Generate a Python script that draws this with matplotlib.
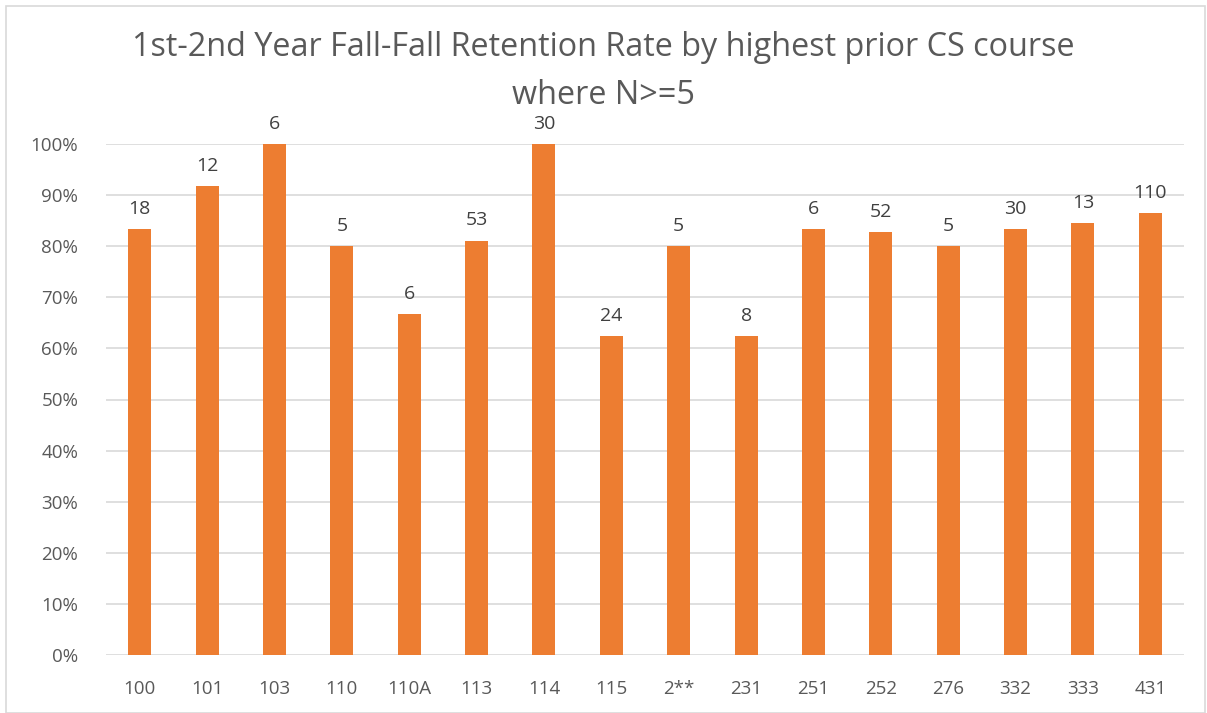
import matplotlib.pyplot as plt
from matplotlib.patches import Rectangle
from matplotlib.ticker import PercentFormatter

courses = ["100", "101", "103", "110", "110A", "113", "114", "115", "2**",
           "231", "251", "252", "276", "332", "333", "431"]
retention = [0.833, 0.917, 1.0, 0.80, 0.667, 0.811, 1.0, 0.625, 0.80,
             0.625, 0.833, 0.827, 0.80, 0.833, 0.846, 0.864]
counts = [18, 12, 6, 5, 6, 53, 30, 24, 5, 8, 6, 52, 5, 30, 13, 110]

plt.rcParams['font.family'] = ['Open Sans', 'DejaVu Sans']
grey = "#595959"

fig = plt.figure(figsize=(12.07, 7.13), dpi=100)
ax = fig.add_axes([106 / 1207, 58 / 713, 1078 / 1207, 511 / 713])

bars = ax.bar(courses, retention, width=0.34, color="#ED7D31", zorder=3)
ax.bar_label(bars, labels=[str(c) for c in counts], padding=8,
             fontsize=14, color="#404040", clip_on=False)

ax.set_ylim(0, 1)
ax.set_xlim(-0.5, len(courses) - 0.5)
ax.set_yticks([i / 10 for i in range(11)])
ax.yaxis.set_major_formatter(PercentFormatter(1.0, decimals=0))
ax.grid(axis="y", color="#D9D9D9", linewidth=1.2, zorder=0)
for s in ax.spines.values():
    s.set_visible(False)
ax.tick_params(length=0, colors=grey, labelsize=13.5)
ax.tick_params(axis="y", pad=20)
ax.tick_params(axis="x", pad=18)

fig.text(0.5, 1 - 48 / 713, "1st-2nd Year Fall-Fall Retention Rate by highest prior CS course",
         ha="center", va="center", fontsize=23.3, color=grey)
fig.text(0.5, 1 - 95 / 713, "where N>=5", ha="center", va="center",
         fontsize=23.3, color=grey)

fig.patches.append(Rectangle((6 / 1207, 0), 1 - 8 / 1207, 1 - 6 / 713,
                             transform=fig.transFigure, fill=False,
                             edgecolor="#D9D9D9", linewidth=1.2))

fig.savefig("out.png", dpi=100)
